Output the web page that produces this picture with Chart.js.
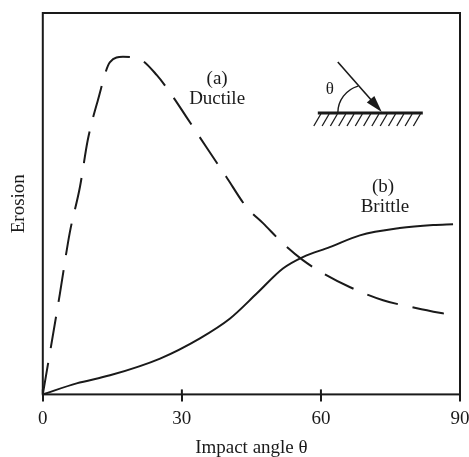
<!DOCTYPE html>
<html>
<head>
<meta charset="utf-8">
<script src="https://cdn.jsdelivr.net/npm/chart.js@4"></script>
<style>
  html, body { margin: 0; padding: 0; background: #fff; }
  #wrap { width: 469px; height: 457px; }
</style>
</head>
<body>
<div id="wrap"><canvas id="chart" width="469" height="457"></canvas></div>
<script>
// values (erosion in arbitrary units, 0..100 = frame height)
const ductileAngle   = [0, 3.7, 5.8, 8.0, 9.7, 11.9, 14.5, 17.3, 20.9, 24.6, 28.1, 31.0, 35.3, 39.6, 44.0, 47.5, 51.8, 56.1, 60.4, 66.3, 73.4, 80.7, 88.5];
const ductileErosion = [0, 26.5, 42.3, 54.3, 66.7, 77.2, 87.1, 88.5, 87.9, 83.7, 78.0, 72.7, 64.8, 57.0, 49.0, 44.9, 39.6, 35.2, 31.8, 28.1, 24.7, 22.6, 20.7];
const brittleAngle   = [0, 7.3, 14.5, 25.3, 33.9, 40.4, 46.2, 51.8, 56.1, 61.9, 68.4, 77.0, 84.2, 88.5];
const brittleErosion = [0, 2.9, 5.0, 9.4, 14.7, 19.9, 26.5, 33.0, 36.0, 38.6, 41.7, 43.6, 44.4, 44.6];
const xTicks = [0, 30, 60, 90];

const ink = '#1a1a1a';
const serif = "'Liberation Serif', 'DejaVu Serif', serif";

const pairs = (xs, ys) => xs.map((x, i) => ({ x: x, y: ys[i] }));

// frame, inner tick marks, curve labels and the little impact sketch
const decor = {
    id: 'decor',
    afterDatasetsDraw(chart) {
        const { ctx, chartArea: a, scales: { x, y } } = chart;
        ctx.save();
        ctx.strokeStyle = ink;
        ctx.fillStyle = ink;
        ctx.lineWidth = 2;
        ctx.strokeRect(a.left, a.top, a.right - a.left, a.bottom - a.top);
        xTicks.forEach(t => {
            const px = x.getPixelForValue(t);
            ctx.beginPath();
            ctx.moveTo(px, a.bottom - 5);
            ctx.lineTo(px, a.bottom);
            ctx.stroke();
        });

        ctx.font = '19px ' + serif;
        ctx.textAlign = 'center';
        ctx.textBaseline = 'middle';
        ctx.fillText('(a)', x.getPixelForValue(37.6), y.getPixelForValue(82.6));
        ctx.fillText('Ductile', x.getPixelForValue(37.6), y.getPixelForValue(77.4));
        ctx.fillText('(b)', x.getPixelForValue(73.4), y.getPixelForValue(54.3));
        ctx.fillText('Brittle', x.getPixelForValue(73.8), y.getPixelForValue(49.2));

        // sketch: surface, hatching, incoming particle and angle
        const ox = a.left, oy = a.top;
        const gy = oy + 100;
        ctx.lineWidth = 3;
        ctx.beginPath();
        ctx.moveTo(ox + 275, gy);
        ctx.lineTo(ox + 380, gy);
        ctx.stroke();
        ctx.lineWidth = 1.3;
        for (let i = 0; i < 13; i++) {
            const hx = ox + 278 + i * 8.3;
            ctx.beginPath();
            ctx.moveTo(hx, gy + 1);
            ctx.lineTo(hx - 7, gy + 13);
            ctx.stroke();
        }
        const sx = ox + 295, sy = oy + 49, tx = ox + 339, ty = gy - 1;
        const ang = Math.atan2(ty - sy, tx - sx);
        ctx.lineWidth = 1.6;
        ctx.beginPath();
        ctx.moveTo(sx, sy);
        ctx.lineTo(tx - 12 * Math.cos(ang), ty - 12 * Math.sin(ang));
        ctx.stroke();
        ctx.beginPath();
        ctx.moveTo(tx, ty);
        ctx.lineTo(tx - 17 * Math.cos(ang) + 5 * Math.sin(ang), ty - 17 * Math.sin(ang) - 5 * Math.cos(ang));
        ctx.lineTo(tx - 17 * Math.cos(ang) - 5 * Math.sin(ang), ty - 17 * Math.sin(ang) + 5 * Math.cos(ang));
        ctx.closePath();
        ctx.fill();
        ctx.lineWidth = 1.4;
        ctx.beginPath();
        ctx.arc(ox + 323, gy, 28, Math.PI, 4.43);
        ctx.stroke();
        ctx.font = '17px ' + serif;
        ctx.fillText('θ', ox + 287, oy + 77);
        ctx.restore();
    }
};

new Chart(document.getElementById('chart'), {
    type: 'line',
    data: {
        datasets: [
            {
                label: '(a) Ductile',
                data: pairs(ductileAngle, ductileErosion),
                borderColor: ink,
                borderWidth: 2,
                borderDash: [32, 15],
                pointRadius: 0,
                cubicInterpolationMode: 'monotone',
                fill: false
            },
            {
                label: '(b) Brittle',
                data: pairs(brittleAngle, brittleErosion),
                borderColor: ink,
                borderWidth: 2,
                pointRadius: 0,
                cubicInterpolationMode: 'monotone',
                fill: false
            }
        ]
    },
    options: {
        responsive: false,
        animation: false,
        layout: { padding: { top: 13, left: 0, right: 0, bottom: 0 } },
        plugins: {
            legend: { display: false },
            tooltip: { enabled: false }
        },
        scales: {
            x: {
                type: 'linear',
                min: 0,
                max: 90,
                afterBuildTicks: s => { s.ticks = xTicks.map(v => ({ value: v })); },
                // let the "90" run off the right edge like the original
                afterFit: s => { s.paddingRight = 9; },
                border: { display: false },
                grid: {
                    drawOnChartArea: false,
                    drawTicks: true,
                    tickLength: 7,
                    color: ink,
                    lineWidth: 2
                },
                ticks: {
                    padding: 6,
                    color: ink,
                    font: { family: serif, size: 19 }
                },
                title: {
                    display: true,
                    text: 'Impact angle θ',
                    color: ink,
                    font: { family: serif, size: 19 },
                    padding: { top: 0, bottom: -2 }
                }
            },
            y: {
                min: 0,
                max: 100,
                border: { display: false },
                grid: { display: false, drawTicks: false },
                ticks: { display: false },
                title: {
                    display: true,
                    text: 'Erosion',
                    color: ink,
                    font: { family: serif, size: 19 },
                    padding: { top: 8, bottom: 12 }
                }
            }
        }
    },
    plugins: [decor]
});
</script>
</body>
</html>
